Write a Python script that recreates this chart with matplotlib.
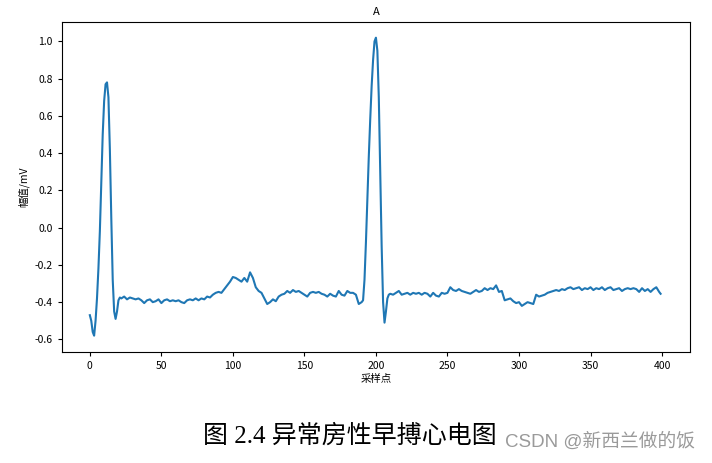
import matplotlib
matplotlib.use('Agg')
import matplotlib.pyplot as plt

plt.rcParams['font.family'] = ['Noto Sans CJK SC', 'DejaVu Sans']
plt.rcParams['axes.unicode_minus'] = False

# 采样点 / 幅值 (mV)
idx = [0, 1, 2, 3, 4, 5, 6, 7, 8, 9, 10, 11, 12, 13, 14, 15, 16, 17, 18, 19, 20, 21,
       22, 24, 26, 28, 30, 32, 34, 36, 38, 40, 42, 44, 46, 48, 50, 52, 54, 56, 58,
       60, 62, 64, 66, 68, 70, 72, 74, 76, 78, 80, 82, 84, 86, 88, 90, 92, 94, 96,
       98, 100, 102, 104, 106, 108, 110, 112, 114, 116, 118, 120, 122, 124, 126,
       128, 130, 132, 134, 136, 138, 140, 142, 144, 146, 148, 150, 152, 154, 156,
       158, 160, 162, 164, 166, 168, 170, 172, 174, 176, 178, 180, 182, 184, 186,
       188, 190, 191, 192, 193, 194, 195, 196, 197, 198, 199, 200, 201, 202, 203,
       204, 205, 206, 207, 208, 209, 210, 212, 214, 216, 218, 220, 222, 224, 226,
       228, 230, 232, 234, 236, 238, 240, 242, 244, 246, 248, 250, 252, 254, 256,
       258, 260, 262, 264, 266, 268, 270, 272, 274, 276, 278, 280, 282, 284, 286,
       288, 290, 292, 294, 296, 298, 300, 302, 304, 306, 308, 310, 312, 314, 316,
       318, 320, 322, 324, 326, 328, 330, 332, 334, 336, 338, 340, 342, 344, 346,
       348, 350, 352, 354, 356, 358, 360, 362, 364, 366, 368, 370, 372, 374, 376,
       378, 380, 382, 384, 386, 388, 390, 392, 394, 396, 398, 399]
amp = [-0.47, -0.50, -0.56, -0.58, -0.50, -0.38, -0.22, -0.02, 0.25, 0.50, 0.68,
       0.77, 0.78, 0.70, 0.42, 0.05, -0.28, -0.45, -0.49, -0.45, -0.39, -0.375,
       -0.38, -0.37, -0.385, -0.375, -0.38, -0.385, -0.38, -0.39, -0.405, -0.39,
       -0.385, -0.40, -0.395, -0.385, -0.405, -0.39, -0.385, -0.395, -0.39,
       -0.395, -0.39, -0.40, -0.405, -0.39, -0.385, -0.39, -0.38, -0.39, -0.38,
       -0.385, -0.37, -0.375, -0.36, -0.35, -0.345, -0.35, -0.33, -0.31,
       -0.29, -0.265, -0.27, -0.28, -0.29, -0.27, -0.29, -0.24, -0.27, -0.32,
       -0.34, -0.35, -0.38, -0.41, -0.40,
       -0.385, -0.395, -0.37, -0.36, -0.355, -0.34, -0.35, -0.335, -0.345,
       -0.34, -0.35, -0.36, -0.37, -0.35, -0.345,
       -0.35, -0.345, -0.355, -0.36, -0.37, -0.355, -0.365, -0.37, -0.34,
       -0.36, -0.365, -0.34, -0.35, -0.35, -0.36,
       -0.41, -0.40, -0.39, -0.28, -0.08, 0.15, 0.38, 0.58, 0.76, 0.90, 1.00,
       1.02, 0.95, 0.70, 0.30,
       -0.10, -0.40, -0.51, -0.45, -0.38, -0.36, -0.355, -0.36, -0.35, -0.34,
       -0.36, -0.355, -0.35, -0.36, -0.35,
       -0.355, -0.35, -0.36, -0.35, -0.355, -0.37, -0.35, -0.365, -0.37, -0.35,
       -0.355, -0.35, -0.32, -0.335, -0.34,
       -0.33, -0.34, -0.345, -0.35, -0.355, -0.345, -0.335, -0.345, -0.34,
       -0.325, -0.335, -0.325, -0.33, -0.31, -0.345,
       -0.34, -0.39, -0.385, -0.38, -0.395, -0.405, -0.40, -0.42, -0.41, -0.40,
       -0.405, -0.41, -0.36, -0.37, -0.365,
       -0.36, -0.35, -0.345, -0.34, -0.335, -0.34, -0.33, -0.335, -0.325,
       -0.32, -0.33, -0.325, -0.32, -0.335, -0.325,
       -0.33, -0.32, -0.335, -0.325, -0.33, -0.32, -0.335, -0.325, -0.32,
       -0.335, -0.33, -0.325, -0.34, -0.33, -0.325,
       -0.33, -0.325, -0.33, -0.345, -0.325, -0.34, -0.33, -0.345, -0.33,
       -0.32, -0.345, -0.355]

title = 'A'
xlabel = '采样点'
ylabel = '幅值/mV'
caption = '图 2.4 异常房性早搏心电图'
watermark = 'CSDN @新西兰做的饭'

fig = plt.figure(figsize=(7.12, 4.63), dpi=100)
ax = fig.add_axes([0.087, 0.24, 0.882, 0.712])
ax.plot(idx, amp, color='#1f77b4', lw=1.5)

ax.set_title(title, fontsize=8, pad=5)
ax.set_xlabel(xlabel, fontsize=7.5, labelpad=2)
ax.set_ylabel(ylabel, fontsize=7.5, labelpad=4)
ax.set_xticks([0, 50, 100, 150, 200, 250, 300, 350, 400])
ax.set_yticks([-0.6, -0.4, -0.2, 0.0, 0.2, 0.4, 0.6, 0.8, 1.0])
ax.tick_params(labelsize=7.5, length=3)
ax.set_xlim(-19.5, 419.5)
ax.set_ylim(-0.667, 1.103)

fig.text(0.285, 0.058, caption, fontsize=18,
         family=['Liberation Serif', 'Noto Sans CJK SC'], va='center', ha='left')
fig.text(0.709, 0.047, watermark, fontsize=13.5, color='#9a9a9a',
         family=['Liberation Sans', 'Noto Sans CJK SC'], va='center', ha='left')

fig.savefig('out.png', dpi=100)
